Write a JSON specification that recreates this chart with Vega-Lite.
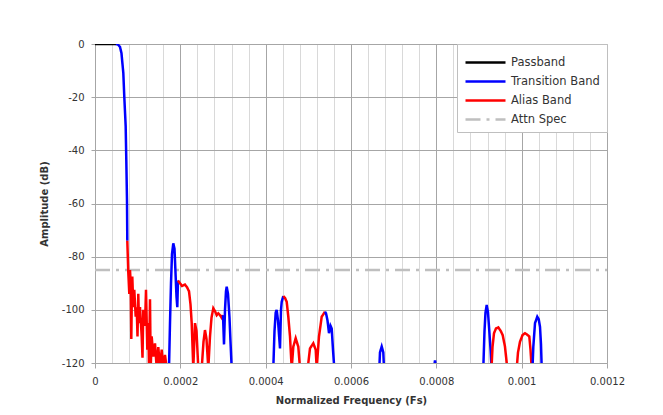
{
  "$schema": "https://vega.github.io/schema/vega-lite/v6.json",
  "width": 512,
  "height": 319,
  "autosize": {"type": "none"},
  "padding": {"left": 95, "top": 44, "right": 56, "bottom": 52},
  "background": "white",
  "config": {
    "view": {"stroke": null},
    "font": "DejaVu Sans",
    "axis": {
      "domainColor": "#a6a6a6",
      "tickColor": "#a6a6a6",
      "gridColor": "#a6a6a6",
      "labelFont": "DejaVu Sans",
      "labelFontSize": 10,
      "labelColor": "#333333",
      "titleFont": "DejaVu Sans",
      "titleFontSize": 10,
      "titleFontWeight": "bold",
      "titleColor": "#333333"
    },
    "legend": {
      "title": null,
      "orient": "top-right",
      "offset": 0,
      "padding": 7,
      "fillColor": "white",
      "strokeColor": "#bfbfbf",
      "symbolType": "M-1,0H3",
      "symbolSize": 400,
      "symbolStrokeWidth": 2.5,
      "labelFont": "DejaVu Sans",
      "labelFontSize": 11.5,
      "labelColor": "#333333",
      "labelOffset": 24,
      "rowPadding": 2
    }
  },
  "data": {
    "values": [
      {"s": "Attn Spec", "g": "a", "f": 0, "d": -85},
      {"s": "Attn Spec", "g": "a", "f": 0.0012, "d": -85},
      {"s": "Passband", "g": "p", "f": 0, "d": 0},
      {"s": "Passband", "g": "p", "f": 0.0000492, "d": 0},
      {"s": "Transition Band", "g": "t1", "f": 0.0000492, "d": 0},
      {"s": "Transition Band", "g": "t1", "f": 0.0000539, "d": -0.2},
      {"s": "Transition Band", "g": "t1", "f": 0.0000586, "d": -1.1},
      {"s": "Transition Band", "g": "t1", "f": 0.0000621, "d": -3.5},
      {"s": "Transition Band", "g": "t1", "f": 0.0000664, "d": -11},
      {"s": "Transition Band", "g": "t1", "f": 0.0000687, "d": -20},
      {"s": "Transition Band", "g": "t1", "f": 0.0000719, "d": -31},
      {"s": "Transition Band", "g": "t1", "f": 0.0000734, "d": -44},
      {"s": "Transition Band", "g": "t1", "f": 0.0000750, "d": -59},
      {"s": "Transition Band", "g": "t1", "f": 0.0000757, "d": -74},
      {"s": "Alias Band", "g": "r1", "f": 0.0000757, "d": -74},
      {"s": "Alias Band", "g": "r1", "f": 0.00007805, "d": -86},
      {"s": "Alias Band", "g": "r1", "f": 0.00008039, "d": -94},
      {"s": "Alias Band", "g": "r1", "f": 0.00008203, "d": -85},
      {"s": "Alias Band", "g": "r1", "f": 0.00008367, "d": -90},
      {"s": "Alias Band", "g": "r1", "f": 0.00008508, "d": -111},
      {"s": "Alias Band", "g": "r1", "f": 0.00008602, "d": -99},
      {"s": "Alias Band", "g": "r1", "f": 0.00008742, "d": -87.5},
      {"s": "Alias Band", "g": "r1", "f": 0.00008977, "d": -99},
      {"s": "Alias Band", "g": "r1", "f": 0.00009211, "d": -92.5},
      {"s": "Alias Band", "g": "r1", "f": 0.00009539, "d": -102.6},
      {"s": "Alias Band", "g": "r1", "f": 0.00009773, "d": -99},
      {"s": "Alias Band", "g": "r1", "f": 0.00009961, "d": -110},
      {"s": "Alias Band", "g": "r1", "f": 0.00010148, "d": -94},
      {"s": "Alias Band", "g": "r1", "f": 0.00010313, "d": -105},
      {"s": "Alias Band", "g": "r1", "f": 0.00010547, "d": -99},
      {"s": "Alias Band", "g": "r1", "f": 0.00010945, "d": -110},
      {"s": "Alias Band", "g": "r1", "f": 0.00011133, "d": -118},
      {"s": "Alias Band", "g": "r1", "f": 0.0001132, "d": -100},
      {"s": "Alias Band", "g": "r1", "f": 0.00011719, "d": -106},
      {"s": "Alias Band", "g": "r1", "f": 0.00011953, "d": -92.5},
      {"s": "Alias Band", "g": "r1", "f": 0.00012258, "d": -115},
      {"s": "Alias Band", "g": "r1", "f": 0.00012492, "d": -105},
      {"s": "Alias Band", "g": "r1", "f": 0.00012656, "d": -122},
      {"s": "Alias Band", "g": "r1", "f": 0.00012891, "d": -96},
      {"s": "Alias Band", "g": "r1", "f": 0.00013055, "d": -122},
      {"s": "Alias Band", "g": "r1", "f": 0.00013289, "d": -110},
      {"s": "Alias Band", "g": "r1", "f": 0.00013664, "d": -117.6},
      {"s": "Alias Band", "g": "r1", "f": 0.00014063, "d": -112.6},
      {"s": "Alias Band", "g": "r1", "f": 0.00014461, "d": -122},
      {"s": "Alias Band", "g": "r1", "f": 0.00014836, "d": -114},
      {"s": "Alias Band", "g": "r1", "f": 0.00015234, "d": -122},
      {"s": "Alias Band", "g": "r1", "f": 0.00015633, "d": -115},
      {"s": "Alias Band", "g": "r1", "f": 0.00016008, "d": -122},
      {"s": "Alias Band", "g": "r1", "f": 0.00016406, "d": -117},
      {"s": "Alias Band", "g": "r1", "f": 0.00016805, "d": -122},
      {"s": "Transition Band", "g": "b2", "f": 0.00017344, "d": -122},
      {"s": "Transition Band", "g": "b2", "f": 0.00017578, "d": -105},
      {"s": "Transition Band", "g": "b2", "f": 0.00017813, "d": -90},
      {"s": "Transition Band", "g": "b2", "f": 0.00018047, "d": -79},
      {"s": "Transition Band", "g": "b2", "f": 0.00018352, "d": -75},
      {"s": "Transition Band", "g": "b2", "f": 0.00018633, "d": -77},
      {"s": "Transition Band", "g": "b2", "f": 0.00018867, "d": -86},
      {"s": "Transition Band", "g": "b2", "f": 0.00019102, "d": -95},
      {"s": "Transition Band", "g": "b2", "f": 0.00019289, "d": -99},
      {"s": "Transition Band", "g": "b2", "f": 0.00019453, "d": -89},
      {"s": "Alias Band", "g": "r2", "f": 0.00019453, "d": -89},
      {"s": "Alias Band", "g": "r2", "f": 0.00019922, "d": -90},
      {"s": "Alias Band", "g": "r2", "f": 0.00020391, "d": -91},
      {"s": "Alias Band", "g": "r2", "f": 0.00021094, "d": -90.5},
      {"s": "Alias Band", "g": "r2", "f": 0.00021563, "d": -91.5},
      {"s": "Alias Band", "g": "r2", "f": 0.00022031, "d": -93},
      {"s": "Alias Band", "g": "r2", "f": 0.00022383, "d": -98},
      {"s": "Alias Band", "g": "r2", "f": 0.00022664, "d": -105},
      {"s": "Alias Band", "g": "r2", "f": 0.00023039, "d": -122},
      {"s": "Alias Band", "g": "r2", "f": 0.00023438, "d": -105},
      {"s": "Alias Band", "g": "r2", "f": 0.00023789, "d": -108},
      {"s": "Alias Band", "g": "r2", "f": 0.00024211, "d": -122},
      {"s": "Alias Band", "g": "r2", "f": 0.00025008, "d": -122},
      {"s": "Alias Band", "g": "r2", "f": 0.0002543, "d": -112},
      {"s": "Alias Band", "g": "r2", "f": 0.00025781, "d": -107.6},
      {"s": "Alias Band", "g": "r2", "f": 0.00026133, "d": -111},
      {"s": "Alias Band", "g": "r2", "f": 0.00026555, "d": -122},
      {"s": "Alias Band", "g": "r2", "f": 0.00026953, "d": -110},
      {"s": "Alias Band", "g": "r2", "f": 0.00027305, "d": -103},
      {"s": "Alias Band", "g": "r2", "f": 0.00027727, "d": -99.4},
      {"s": "Alias Band", "g": "r2", "f": 0.00028125, "d": -100.5},
      {"s": "Alias Band", "g": "r2", "f": 0.00028523, "d": -102},
      {"s": "Alias Band", "g": "r2", "f": 0.00028898, "d": -101.3},
      {"s": "Alias Band", "g": "r2", "f": 0.00029297, "d": -102},
      {"s": "Alias Band", "g": "r2", "f": 0.00029695, "d": -103},
      {"s": "Alias Band", "g": "r2", "f": 0.0003, "d": -102},
      {"s": "Transition Band", "g": "b3", "f": 0.0003, "d": -102},
      {"s": "Transition Band", "g": "b3", "f": 0.00030234, "d": -113},
      {"s": "Transition Band", "g": "b3", "f": 0.00030469, "d": -100},
      {"s": "Transition Band", "g": "b3", "f": 0.00030703, "d": -93},
      {"s": "Transition Band", "g": "b3", "f": 0.00030867, "d": -91.3},
      {"s": "Transition Band", "g": "b3", "f": 0.00031172, "d": -94},
      {"s": "Transition Band", "g": "b3", "f": 0.00031523, "d": -103},
      {"s": "Transition Band", "g": "b3", "f": 0.00031758, "d": -112},
      {"s": "Transition Band", "g": "b3", "f": 0.00032039, "d": -122},
      {"s": "Transition Band", "g": "b4", "f": 0.00041789, "d": -122},
      {"s": "Transition Band", "g": "b4", "f": 0.0004207, "d": -108},
      {"s": "Transition Band", "g": "b4", "f": 0.00042352, "d": -101},
      {"s": "Transition Band", "g": "b4", "f": 0.00042586, "d": -100},
      {"s": "Transition Band", "g": "b4", "f": 0.00042891, "d": -104},
      {"s": "Transition Band", "g": "b4", "f": 0.00043359, "d": -114.5},
      {"s": "Transition Band", "g": "b4", "f": 0.00043594, "d": -100},
      {"s": "Transition Band", "g": "b4", "f": 0.00043758, "d": -97},
      {"s": "Transition Band", "g": "b4", "f": 0.00044133, "d": -94.8},
      {"s": "Alias Band", "g": "r3", "f": 0.00044133, "d": -94.8},
      {"s": "Alias Band", "g": "r3", "f": 0.00044531, "d": -95.5},
      {"s": "Alias Band", "g": "r3", "f": 0.0004493, "d": -97},
      {"s": "Alias Band", "g": "r3", "f": 0.00045305, "d": -102.6},
      {"s": "Alias Band", "g": "r3", "f": 0.00045703, "d": -110},
      {"s": "Alias Band", "g": "r3", "f": 0.00046102, "d": -122},
      {"s": "Alias Band", "g": "r3", "f": 0.00046477, "d": -113.9},
      {"s": "Alias Band", "g": "r3", "f": 0.00047039, "d": -110.7},
      {"s": "Alias Band", "g": "r3", "f": 0.00047648, "d": -113.9},
      {"s": "Alias Band", "g": "r3", "f": 0.00048047, "d": -122},
      {"s": "Alias Band", "g": "r4", "f": 0.00049852, "d": -122},
      {"s": "Alias Band", "g": "r4", "f": 0.00050391, "d": -114.5},
      {"s": "Alias Band", "g": "r4", "f": 0.00051164, "d": -112.6},
      {"s": "Alias Band", "g": "r4", "f": 0.00051727, "d": -115},
      {"s": "Alias Band", "g": "r4", "f": 0.00051961, "d": -122},
      {"s": "Alias Band", "g": "r4", "f": 0.000525, "d": -110},
      {"s": "Alias Band", "g": "r4", "f": 0.00053133, "d": -102.6},
      {"s": "Alias Band", "g": "r4", "f": 0.00053906, "d": -100.7},
      {"s": "Transition Band", "g": "b5", "f": 0.00053906, "d": -100.7},
      {"s": "Transition Band", "g": "b5", "f": 0.00054141, "d": -101.3},
      {"s": "Transition Band", "g": "b5", "f": 0.00054492, "d": -104},
      {"s": "Transition Band", "g": "b5", "f": 0.00054844, "d": -108.8},
      {"s": "Transition Band", "g": "b5", "f": 0.00055195, "d": -106},
      {"s": "Transition Band", "g": "b5", "f": 0.00055477, "d": -107},
      {"s": "Transition Band", "g": "b5", "f": 0.00055781, "d": -115},
      {"s": "Transition Band", "g": "b5", "f": 0.00056086, "d": -122},
      {"s": "Transition Band", "g": "b6", "f": 0.00066633, "d": -122},
      {"s": "Transition Band", "g": "b6", "f": 0.00066797, "d": -116},
      {"s": "Transition Band", "g": "b6", "f": 0.00067195, "d": -113.8},
      {"s": "Transition Band", "g": "b6", "f": 0.0006757, "d": -116},
      {"s": "Transition Band", "g": "b6", "f": 0.00067734, "d": -122},
      {"s": "Transition Band", "g": "b7", "f": 0.00079453, "d": -122},
      {"s": "Transition Band", "g": "b7", "f": 0.00079688, "d": -119},
      {"s": "Transition Band", "g": "b7", "f": 0.00079922, "d": -122},
      {"s": "Transition Band", "g": "b8", "f": 0.00091008, "d": -122},
      {"s": "Transition Band", "g": "b8", "f": 0.00091289, "d": -108},
      {"s": "Transition Band", "g": "b8", "f": 0.00091523, "d": -101},
      {"s": "Transition Band", "g": "b8", "f": 0.00091805, "d": -98.2},
      {"s": "Transition Band", "g": "b8", "f": 0.00092109, "d": -101},
      {"s": "Transition Band", "g": "b8", "f": 0.00092461, "d": -109},
      {"s": "Transition Band", "g": "b8", "f": 0.00092742, "d": -115.8},
      {"s": "Transition Band", "g": "b8", "f": 0.0009293, "d": -122},
      {"s": "Alias Band", "g": "r6", "f": 0.0009293, "d": -122},
      {"s": "Alias Band", "g": "r6", "f": 0.00093164, "d": -114},
      {"s": "Alias Band", "g": "r6", "f": 0.00093516, "d": -108.8},
      {"s": "Alias Band", "g": "r6", "f": 0.00093984, "d": -107},
      {"s": "Alias Band", "g": "r6", "f": 0.00094523, "d": -106.6},
      {"s": "Alias Band", "g": "r6", "f": 0.00095039, "d": -107.8},
      {"s": "Alias Band", "g": "r6", "f": 0.00095555, "d": -109.5},
      {"s": "Alias Band", "g": "r6", "f": 0.00096094, "d": -113.9},
      {"s": "Alias Band", "g": "r6", "f": 0.00096633, "d": -122},
      {"s": "Alias Band", "g": "r7", "f": 0.00098836, "d": -122},
      {"s": "Alias Band", "g": "r7", "f": 0.00099141, "d": -116},
      {"s": "Alias Band", "g": "r7", "f": 0.00099609, "d": -112},
      {"s": "Alias Band", "g": "r7", "f": 0.001002, "d": -109.5},
      {"s": "Alias Band", "g": "r7", "f": 0.0010078, "d": -108.8},
      {"s": "Alias Band", "g": "r7", "f": 0.0010125, "d": -109.3},
      {"s": "Alias Band", "g": "r7", "f": 0.0010179, "d": -110},
      {"s": "Alias Band", "g": "r7", "f": 0.0010207, "d": -115},
      {"s": "Alias Band", "g": "r7", "f": 0.0010235, "d": -122},
      {"s": "Transition Band", "g": "b9", "f": 0.0010254, "d": -122},
      {"s": "Transition Band", "g": "b9", "f": 0.0010273, "d": -113.9},
      {"s": "Transition Band", "g": "b9", "f": 0.0010313, "d": -105},
      {"s": "Transition Band", "g": "b9", "f": 0.0010366, "d": -102.6},
      {"s": "Transition Band", "g": "b9", "f": 0.0010399, "d": -103.5},
      {"s": "Transition Band", "g": "b9", "f": 0.001043, "d": -106.4},
      {"s": "Transition Band", "g": "b9", "f": 0.0010453, "d": -113},
      {"s": "Transition Band", "g": "b9", "f": 0.001047, "d": -122}
    ]
  },
  "mark": {"type": "line", "clip": true, "strokeWidth": 2.5},
  "encoding": {
    "x": {
      "field": "f",
      "type": "quantitative",
      "scale": {"domain": [0, 0.0012], "nice": false, "zero": false},
      "axis": {
        "title": "Normalized Frequency (Fs)",
        "values": [0, 0.00004, 0.00008, 0.00012, 0.00016, 0.0002, 0.00024, 0.00028, 0.00032, 0.00036, 0.0004, 0.00044, 0.00048, 0.00052, 0.00056, 0.0006, 0.00064, 0.00068, 0.00072, 0.00076, 0.0008, 0.00084, 0.00088, 0.00092, 0.00096, 0.001, 0.00104, 0.00108, 0.00112, 0.00116, 0.0012],
        "labelExpr": "abs(datum.value*5000 - round(datum.value*5000)) < 0.001 ? format(datum.value, '~g') : ''",
        "labelOverlap": false,
        "labelFlush": false,
        "labelBound": false,
        "grid": true,
        "gridColor": {"condition": {"test": "abs(datum.value*5000 - round(datum.value*5000)) < 0.001", "value": "#a6a6a6"}, "value": "#d9d9d9"},
        "tickOpacity": {"condition": {"test": "abs(datum.value*5000 - round(datum.value*5000)) < 0.001", "value": 1}, "value": 0},
        "tickSize": 5,
        "labelPadding": 8,
        "titlePadding": 9
      }
    },
    "y": {
      "field": "d",
      "type": "quantitative",
      "scale": {"domain": [-120, 0], "nice": false, "zero": false},
      "axis": {
        "title": "Amplitude (dB)",
        "values": [-120, -100, -80, -60, -40, -20, 0],
        "labelExpr": "datum.value < 0 ? '-' + (-datum.value) : '0'",
        "grid": true,
        "tickSize": 4,
        "labelPadding": 7,
        "titlePadding": 12,
        "labelFlush": false
      }
    },
    "color": {
      "field": "s",
      "type": "nominal",
      "scale": {"domain": ["Passband", "Transition Band", "Alias Band", "Attn Spec"], "range": ["#000000", "#0000ff", "#ff0000", "#bfbfbf"]}
    },
    "strokeDash": {
      "field": "s",
      "type": "nominal",
      "scale": {"domain": ["Passband", "Transition Band", "Alias Band", "Attn Spec"], "range": [[1, 0], [1, 0], [1, 0], [15, 6, 3, 6]]}
    },
    "detail": {"field": "g", "type": "nominal"}
  }
}
